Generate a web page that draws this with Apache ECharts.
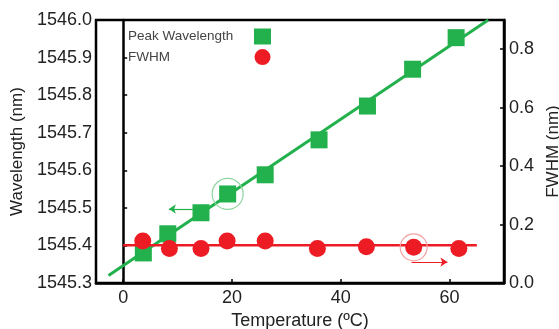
<!DOCTYPE html>
<html>
<head>
<meta charset="utf-8">
<script src="https://cdn.jsdelivr.net/npm/echarts@6/dist/echarts.min.js"></script>
<style>
  html, body { margin: 0; padding: 0; background: #fff; }
  #chart { width: 559px; height: 329px; }
</style>
</head>
<body>
<div id="chart"></div>
<script>
// Peak wavelength measurements (left axis) vs temperature
const wlTemps = [3.7, 8.2, 14.3, 19.2, 26.1, 36.0, 44.9, 53.2, 61.2];
const wavelengths = [1545.380, 1545.431, 1545.487, 1545.537, 1545.588, 1545.681, 1545.771, 1545.869, 1545.953];

// FWHM measurements (right axis) vs temperature
const fwhmTemps = [3.6, 8.5, 14.3, 19.1, 26.1, 35.7, 44.7, 53.4, 61.7];
const fwhmValues = [0.144, 0.118, 0.118, 0.144, 0.144, 0.118, 0.124, 0.122, 0.118];

// Fitted trend lines (end points)
const wlFitTemps = [-2.7, 67.1];
const wlFitValues = [1545.320, 1546.000];
const fwhmFitTemps = [0, 65];
const fwhmFitValues = [0.1295, 0.1295];

// Tick labels
const xTicks = [0, 20, 40, 60];
const fwhmTicks = [0, 0.2, 0.4, 0.6, 0.8];

const GREEN = '#22b14c';
const RED = '#ed1c24';
const FONT = '"Liberation Sans", Arial, sans-serif';

const zip = (xs, ys) => xs.map((x, i) => [x, ys[i]]);

const chart = echarts.init(document.getElementById('chart'), null, { renderer: 'canvas' });

const axisCommon = {
  axisLine: { show: true, lineStyle: { color: '#000', width: 2.5 } },
  axisTick: { show: true, inside: true, length: 4, lineStyle: { color: '#000', width: 1.5 } },
  splitLine: { show: false },
  nameLocation: 'middle',
  nameTextStyle: { fontFamily: FONT, fontSize: 17, color: '#222' }
};

chart.setOption({
  animation: false,
  backgroundColor: '#fff',
  grid: {
    left: 96, top: 20, right: 55, bottom: 46,
    outerBoundsMode: 'none',
    containLabel: false,
    show: true, borderColor: '#000', borderWidth: 2.5, backgroundColor: 'transparent'
  },
  legend: {
    orient: 'vertical',
    left: 128,
    top: 28.5,
    padding: 0,
    align: 'right',
    itemWidth: 17,
    itemHeight: 16,
    itemGap: 4.6,
    data: [
      { name: 'Peak Wavelength', icon: 'rect' },
      { name: 'FWHM', icon: 'circle' }
    ],
    formatter: name => '{t|' + name + '}',
    textStyle: {
      fontFamily: FONT, fontSize: 13.5, color: '#444',
      rich: { t: { width: 121, align: 'left', fontFamily: FONT, fontSize: 13.5, color: '#444' } }
    }
  },
  xAxis: Object.assign({}, axisCommon, {
    type: 'value',
    min: -5,
    max: 70,
    name: 'Temperature (ºC)',
    nameGap: 28,
    nameTextStyle: { fontFamily: FONT, fontSize: 18, color: '#222' },
    axisTick: Object.assign({}, axisCommon.axisTick, { customValues: xTicks }),
    axisLabel: {
      customValues: xTicks,
      margin: 6,
      fontFamily: FONT, fontSize: 18, color: '#222'
    }
  }),
  yAxis: [
    Object.assign({}, axisCommon, {
      type: 'value',
      min: 1545.3,
      max: 1546.0,
      interval: 0.1,
      name: 'Wavelength (nm)',
      nameGap: 63,
      nameRotate: 90,
      axisLabel: {
        margin: 4,
        fontFamily: FONT, fontSize: 18, color: '#222',
        formatter: v => v.toFixed(1)
      }
    }),
    Object.assign({}, axisCommon, {
      type: 'value',
      position: 'right',
      min: 0,
      max: 0.9,
      name: 'FWHM (nm)',
      nameGap: 40,
      nameRotate: 90,
      axisTick: Object.assign({}, axisCommon.axisTick, { customValues: fwhmTicks }),
      axisLabel: {
        customValues: fwhmTicks,
        margin: 5,
        fontFamily: FONT, fontSize: 18, color: '#222',
        formatter: v => v.toFixed(1)
      }
    })
  ],
  series: [
    {
      name: 'Peak Wavelength fit',
      type: 'line',
      yAxisIndex: 0,
      data: zip(wlFitTemps, wlFitValues),
      symbol: 'none',
      lineStyle: { color: GREEN, width: 3 },
      clip: true,
      z: 2,
      markLine: {
        silent: true,
        symbol: ['none', 'arrow'],
        symbolSize: [7, 7],
        label: { show: false },
        lineStyle: { color: GREEN, width: 1.2, type: 'solid' },
        data: [[{ coord: [12.8, 1545.497] }, { coord: [8.4, 1545.497] }]]
      }
    },
    {
      name: 'Peak Wavelength',
      type: 'scatter',
      yAxisIndex: 0,
      data: zip(wlTemps, wavelengths),
      symbol: 'rect',
      symbolSize: 17,
      itemStyle: { color: GREEN, opacity: 1 },
      z: 3
    },
    {
      name: 'Peak Wavelength mark',
      type: 'scatter',
      yAxisIndex: 0,
      data: [[wlTemps[3], wavelengths[3]]],
      symbol: 'circle',
      symbolSize: 31,
      itemStyle: { color: 'transparent', borderColor: '#8ed6a0', borderWidth: 1.2, opacity: 1 },
      z: 3
    },
    {
      name: 'FWHM fit',
      type: 'line',
      yAxisIndex: 1,
      data: zip(fwhmFitTemps, fwhmFitValues),
      symbol: 'none',
      lineStyle: { color: RED, width: 2.5 },
      z: 4,
      markLine: {
        silent: true,
        symbol: ['none', 'arrow'],
        symbolSize: [7, 7],
        label: { show: false },
        lineStyle: { color: RED, width: 1.2, type: 'solid' },
        data: [[{ coord: [53.0, 0.0715] }, { coord: [59.6, 0.0715] }]]
      }
    },
    {
      name: 'FWHM',
      type: 'scatter',
      yAxisIndex: 1,
      data: zip(fwhmTemps, fwhmValues),
      symbol: 'circle',
      symbolSize: 17,
      itemStyle: { color: RED, opacity: 1 },
      z: 5
    },
    {
      name: 'FWHM mark',
      type: 'scatter',
      yAxisIndex: 1,
      data: [[fwhmTemps[7], fwhmValues[7]]],
      symbol: 'circle',
      symbolSize: 27,
      itemStyle: { color: 'transparent', borderColor: '#f3a0a3', borderWidth: 1.2, opacity: 1 },
      z: 5
    }
  ]
});
</script>
</body>
</html>
